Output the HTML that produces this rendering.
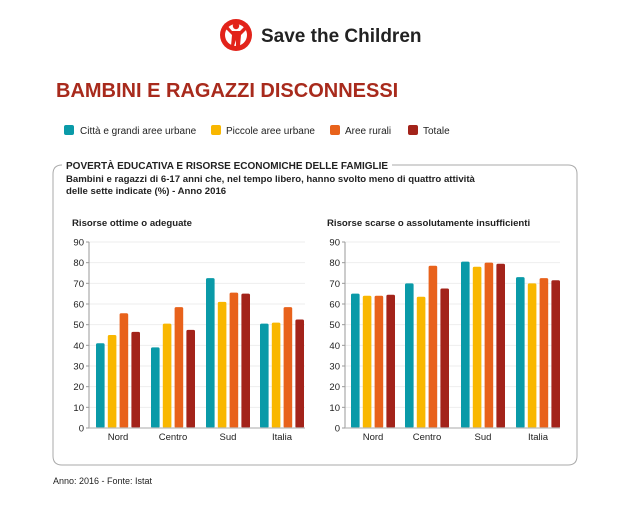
<!DOCTYPE html>
<html><head><meta charset="utf-8"><style>
body{margin:0;background:#fff;width:630px;height:512px;overflow:hidden;font-family:"Liberation Sans",sans-serif;}
</style></head><body>
<svg width="630" height="512" xmlns="http://www.w3.org/2000/svg" font-family="Liberation Sans, sans-serif">
<circle cx="236" cy="35" r="16" fill="#e2231a"/>
<circle cx="236" cy="35" r="11" fill="#fff"/>
<path d="M226 24 L232 31 L240 31 L247 24 L249 27 L241 35 L240 46 L236 46 L236 40 L234 46 L231 46 L232 35 L224 27Z" fill="#e2231a"/>
<circle cx="236" cy="26" r="3.2" fill="#e2231a"/>
<text x="261" y="42" font-size="19" font-weight="bold" fill="#222">Save the Children</text>
<text x="56" y="97" font-size="20" font-weight="bold" fill="#a82a1c">BAMBINI E RAGAZZI DISCONNESSI</text>
<g font-size="10" fill="#222">
<rect x="64" y="125" width="10" height="10" rx="2" fill="#0a9aa8"/><text x="80" y="134">Città e grandi aree urbane</text>
<rect x="211" y="125" width="10" height="10" rx="2" fill="#f9b700"/><text x="226" y="134">Piccole aree urbane</text>
<rect x="330" y="125" width="10" height="10" rx="2" fill="#e8621b"/><text x="345" y="134">Aree rurali</text>
<rect x="408" y="125" width="10" height="10" rx="2" fill="#a3231a"/><text x="423" y="134">Totale</text>
</g>
<path d="M62 165 Q53 165 53 174 V456 Q53 465 62 465 H568 Q577 465 577 456 V174 Q577 165 568 165 H392" fill="none" stroke="#aaa" stroke-width="1"/>
<text x="66" y="169" font-size="10" font-weight="bold" fill="#222">POVERTÀ EDUCATIVA E RISORSE ECONOMICHE DELLE FAMIGLIE</text>
<text x="66" y="182" font-size="9.6" font-weight="bold" fill="#222">Bambini e ragazzi di 6-17 anni che, nel tempo libero, hanno svolto meno di quattro attività</text>
<text x="66" y="194" font-size="9.6" font-weight="bold" fill="#222">delle sette indicate (%) - Anno 2016</text>
<text x="72" y="226" font-size="9.6" font-weight="bold" fill="#222">Risorse ottime o adeguate</text>
<text x="327" y="226" font-size="9.6" font-weight="bold" fill="#222">Risorse scarse o assolutamente insufficienti</text>
<g id="charts"></g>
<text x="53" y="484" font-size="9" fill="#222">Anno: 2016 - Fonte: Istat</text>
</svg>
<script>
var ns="http://www.w3.org/2000/svg",g=document.getElementById("charts");
function el(t,a,txt){var e=document.createElementNS(ns,t);for(var k in a)e.setAttribute(k,a[k]);if(txt!==undefined)e.textContent=txt;g.appendChild(e);return e;}
var cols=["#0a9aa8","#f9b700","#e8621b","#a3231a"],cats=["Nord","Centro","Sud","Italia"];
function chart(ax,right,starts,data){
 var y0=428,k=186/90;
 for(var v=0;v<=90;v+=10){var y=y0-v*k;
  if(v>0)el("line",{x1:ax,x2:right,y1:y,y2:y,stroke:"#eee","stroke-width":1});
  el("text",{x:ax-5,y:y+3.5,"font-size":9.5,"text-anchor":"end",fill:"#222"},v);
  el("line",{x1:ax-3,x2:ax,y1:y,y2:y,stroke:"#999"});}
 el("line",{x1:ax,x2:ax,y1:y0-90*k,y2:y0,stroke:"#999"});
 for(var c=0;c<4;c++){for(var s=0;s<4;s++){var h=data[c][s]*k,x=starts[c]+s*11.8;
  el("rect",{x:x,y:y0-h,width:8.6,height:h,rx:1.5,fill:cols[s]});}
  el("text",{x:starts[c]+22,y:y0+12,"font-size":9.5,"text-anchor":"middle",fill:"#222"},cats[c]);}
 el("line",{x1:ax,x2:right,y1:y0,y2:y0,stroke:"#bbb","stroke-width":1.2});
}
chart(89,305,[96,151,206,260],[[41,45,55.5,46.5],[39,50.5,58.5,47.5],[72.5,61,65.5,65],[50.5,51,58.5,52.5]]);
chart(345,560,[351,405,461,516],[[65,64,64,64.5],[70,63.5,78.5,67.5],[80.5,78,80,79.5],[73,70,72.5,71.5]]);
</script>
</body></html>
